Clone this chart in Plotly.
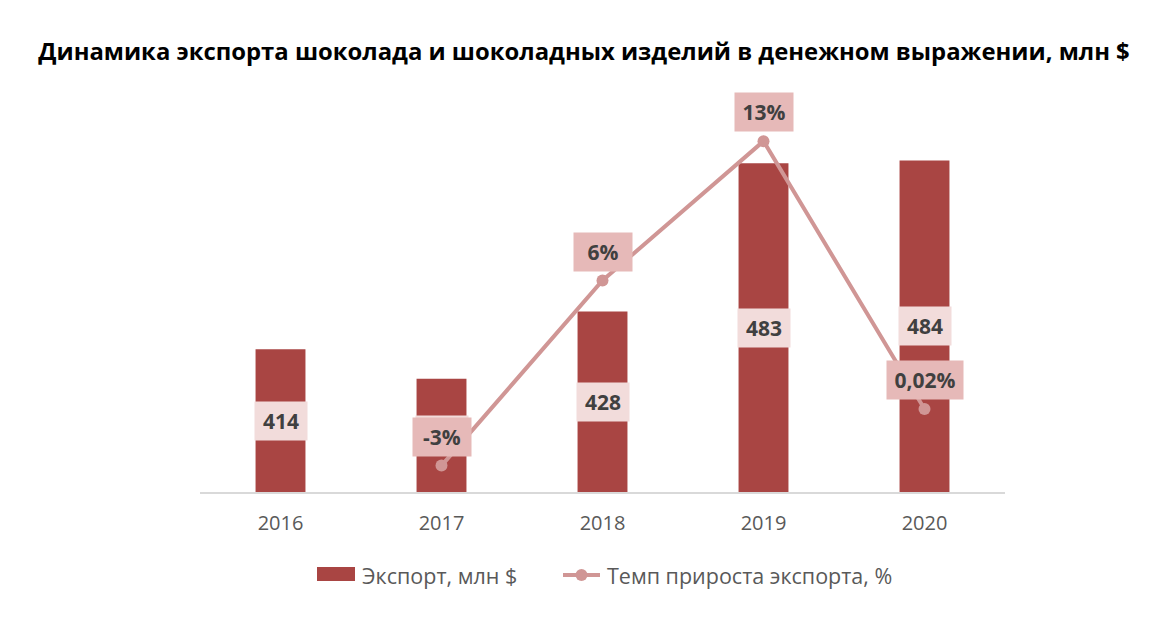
import plotly.graph_objects as go

years = ["2016", "2017", "2018", "2019", "2020"]
export_values = [414, 403, 428, 483, 484]
growth_years = ["2017", "2018", "2019", "2020"]
growth_values = [-2.7, 6.2, 12.9, 0.02]
growth_labels = ["-3%", "6%", "13%", "0,02%"]
export_labels = ["414", "403", "428", "483", "484"]
bar_name = "Экспорт, млн $"
line_name = "Темп прироста экспорта, %"

BAR_COLOR = "#A94543"
LINE_COLOR = "#D09695"
LINE_LABEL_BG = "#E6B9B8"
BAR_LABEL_BG = "#F2DCDB"
FONT = "Open Sans"

y1_range = [361, 508.3]
y2_range = [-3.97, 15.12]

fig = go.Figure()
fig.add_trace(go.Bar(
    x=years, y=export_values, name=bar_name,
    marker=dict(color=BAR_COLOR, line=dict(width=0)),
    width=0.31, yaxis="y", showlegend=False,
))
fig.add_trace(go.Scatter(
    x=growth_years, y=growth_values, name=line_name,
    mode="lines+markers",
    line=dict(color=LINE_COLOR, width=4),
    marker=dict(color=LINE_COLOR, size=12),
    yaxis="y2", showlegend=False,
))

annotations = []
for x, v, t in zip(years, export_values, export_labels):
    annotations.append(dict(
        x=years.index(x), y=(v + y1_range[0]) / 2, xref="x", yref="y", text=f"<b>{t}</b>",
        showarrow=False, bgcolor=BAR_LABEL_BG, width=50, height=36,
        font=dict(family=FONT, size=21, color="#404040"),
    ))
for x, v, t in zip(growth_years, growth_values, growth_labels):
    annotations.append(dict(
        x=years.index(x), y=v, xref="x", yref="y2", text=f"<b>{t}</b>", yshift=29,
        showarrow=False, bgcolor=LINE_LABEL_BG, width=max(56, 14 * len(t) + 4), height=36,
        font=dict(family=FONT, size=21, color="#404040"),
    ))

# manual legend (plot-area relative paper coords)
def px_x(p):
    return (p - 200) / 805

def px_y(p):
    return (492 - p) / 397

legend_font = dict(family=FONT, size=21.5, color="#595959")
annotations.append(dict(x=px_x(360), y=px_y(575), xref="paper", yref="paper", text=bar_name,
                        showarrow=False, xanchor="left", yanchor="middle", font=legend_font))
annotations.append(dict(x=px_x(605), y=px_y(575), xref="paper", yref="paper", text=line_name,
                        showarrow=False, xanchor="left", yanchor="middle", font=legend_font))
shapes = [
    dict(type="rect", xref="paper", yref="paper", x0=px_x(317), x1=px_x(355),
         y0=px_y(581), y1=px_y(567), fillcolor=BAR_COLOR, line=dict(width=0)),
    dict(type="line", xref="paper", yref="paper", x0=px_x(563), x1=px_x(600),
         y0=px_y(575), y1=px_y(575), line=dict(color=LINE_COLOR, width=4)),
    dict(type="circle", xref="paper", yref="paper", x0=px_x(575.5), x1=px_x(587.5),
         y0=px_y(581), y1=px_y(569), fillcolor=LINE_COLOR, line=dict(width=0)),
]

# page body has an 8px margin, so shift plot area up/left by 8px
fig.update_layout(
    width=1157, height=626,
    margin=dict(l=192, r=160, t=87, b=142),
    paper_bgcolor="white", plot_bgcolor="white",
    title=dict(
        text="<b>Динамика экспорта шоколада и шоколадных изделий в денежном выражении, млн $</b>",
        x=(584 - 8) / 1157, xanchor="center", y=1 - 44 / 626, yanchor="middle",
        font=dict(family=FONT, size=23.85, color="#000000"),
    ),
    xaxis=dict(
        type="category", range=[-0.5, 4.5], autorange=False,
        showgrid=False, showline=True, linecolor="#D9D9D9", linewidth=2,
        ticks="", tickfont=dict(family=FONT, size=20, color="#595959"),
        ticklabelstandoff=12,
    ),
    yaxis=dict(range=y1_range, visible=False, showgrid=False),
    yaxis2=dict(range=y2_range, visible=False, showgrid=False, overlaying="y", side="right"),
    showlegend=False,
    annotations=annotations,
    shapes=shapes,
)

fig.write_html("out.html")
